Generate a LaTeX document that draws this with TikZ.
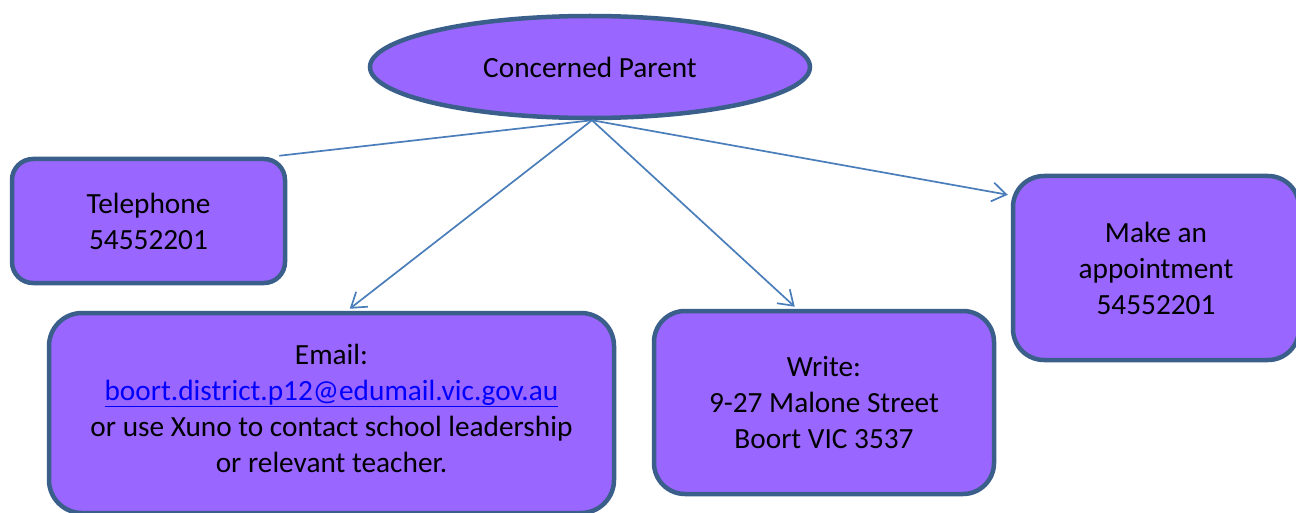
\documentclass[tikz,border=0pt]{standalone}
\usepackage{fontspec}
\setmainfont{Carlito}
\usetikzlibrary{shapes.geometric,arrows.meta,backgrounds}
\definecolor{boxfill}{HTML}{9966FF}
\definecolor{boxline}{HTML}{3A5F8B}
\definecolor{conn}{HTML}{4A7EBB}
\definecolor{linkblue}{HTML}{0000FF}
\tikzset{
  shapebox/.style={draw=boxline, fill=boxfill, line width=4.5pt, align=center,
    inner sep=0pt, font=\fontsize{29.3}{36}\selectfont},
  connector/.style={draw=conn, line width=1.7pt},
  arrowconn/.style={connector, -{Straight Barb[length=14pt,width=19pt,line width=1.7pt]}},
}
\begin{document}
\begin{tikzpicture}[x=1pt,y=-1pt]
\useasboundingbox (0,0) rectangle (1296,513);
\node[shapebox, ellipse, minimum width=440pt, minimum height=102pt] (parent) at (590,67) {Concerned Parent};
\node[shapebox, rectangle, rounded corners=21pt, minimum width=273pt, minimum height=124pt] (tel) at (148.5,221) {Telephone\\54552201};
\node[shapebox, rectangle, rounded corners=33pt, minimum width=565pt, minimum height=200pt] (email) at (331.5,413) {Email:\\\textcolor{linkblue}{\underline{boort.district.p12@edumail.vic.gov.au}}\\or use Xuno to contact school leadership\\or relevant teacher.\\[-26pt]\mbox{}};
\node[shapebox, rectangle, rounded corners=31pt, minimum width=340pt, minimum height=183pt] (write) at (824,402.5) {Write:\\9-27 Malone Street\\Boort VIC 3537};
\node[shapebox, rectangle, rounded corners=31pt, minimum width=286pt, minimum height=184pt] (appt) at (1156,268) {Make an\\appointment\\54552201};
\begin{scope}[on background layer]
\draw[connector] ([xshift=2pt]parent.south) -- ([xshift=-8pt,yshift=1pt]tel.north east);
\end{scope}
\draw[arrowconn] ([xshift=2pt]parent.south) -- ([xshift=303pt,yshift=2pt]email.north west);
\draw[arrowconn] ([xshift=2pt]parent.south) -- ([xshift=143pt,yshift=2pt]write.north west);
\draw[arrowconn] ([xshift=2pt]parent.south) -- ([xshift=-3pt,yshift=-21pt]appt.north west);
\end{tikzpicture}
\end{document}
